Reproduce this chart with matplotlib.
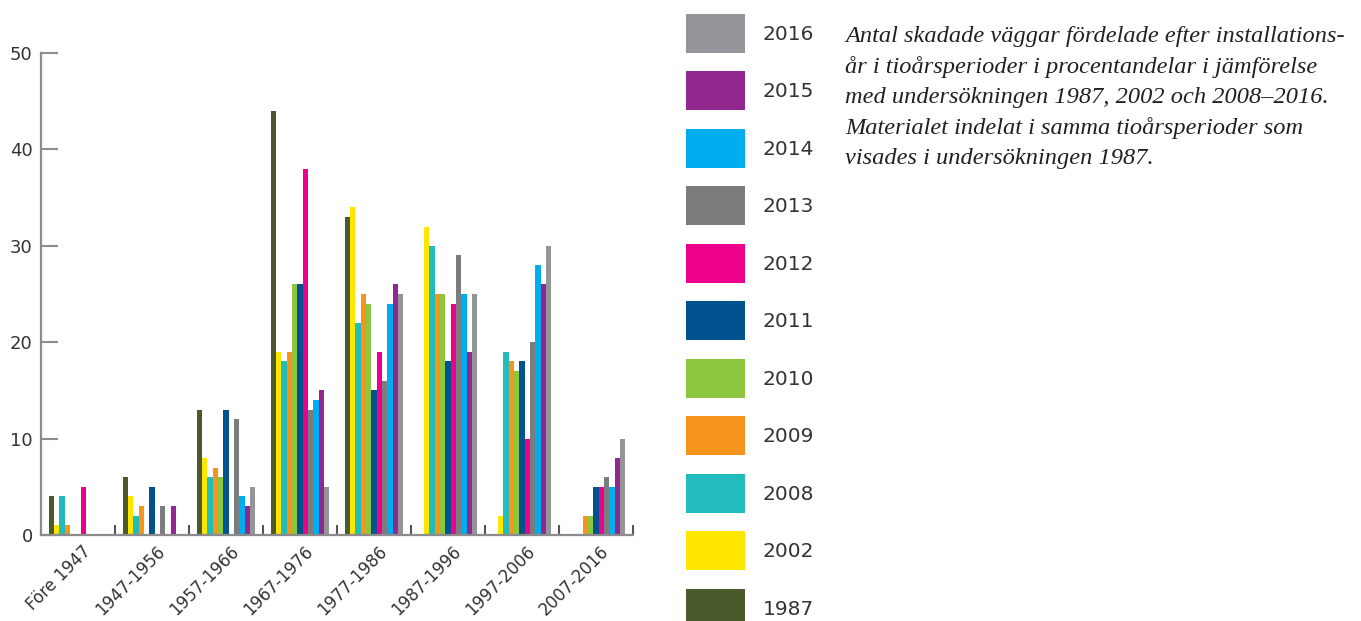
import numpy as np
import matplotlib
matplotlib.use("Agg")
import matplotlib.pyplot as plt
import matplotlib.transforms as mtransforms
from matplotlib.patches import Patch

# perioder (installationsår)
perioder = ['Före 1947', '1947-1956', '1957-1966', '1967-1976',
            '1977-1986', '1987-1996', '1997-2006', '2007-2016']

# år för undersökningen
ar = ['1987', '2002', '2008', '2009', '2010', '2011',
      '2012', '2013', '2014', '2015', '2016']

# andel skadade väggar i procent, en lista per undersökningsår
v1987 = [4, 6, 13, 44, 33, 0, 0, 0]
v2002 = [1, 4, 8, 19, 34, 32, 2, 0]
v2008 = [4, 2, 6, 18, 22, 30, 19, 0]
v2009 = [1, 3, 7, 19, 25, 25, 18, 2]
v2010 = [0, 0, 6, 26, 24, 25, 17, 2]
v2011 = [0, 5, 13, 26, 15, 18, 18, 5]
v2012 = [5, 0, 0, 38, 19, 24, 10, 5]
v2013 = [0, 3, 12, 13, 16, 29, 20, 6]
v2014 = [0, 0, 4, 14, 24, 25, 28, 5]
v2015 = [0, 3, 3, 15, 26, 19, 26, 8]
v2016 = [0, 0, 5, 5, 25, 25, 30, 10]

varden = [v1987, v2002, v2008, v2009, v2010, v2011,
          v2012, v2013, v2014, v2015, v2016]

farger = ['#4a5a2a', '#ffe600', '#22bcbd', '#f7941d', '#8dc63f', '#00538f',
          '#ec008c', '#7b7c7e', '#00aeef', '#92278f', '#939598']

fig = plt.figure(figsize=(13.61, 6.21), dpi=100)
ax = fig.add_axes([41 / 1361, 86 / 621, 592 / 1361, 482 / 621])

x = np.arange(len(perioder))
bredd = 0.072
for i, (serie, farg) in enumerate(zip(varden, farger)):
    forskjut = (i - (len(ar) - 1) / 2) * bredd
    ax.bar(x + forskjut, serie, bredd, color=farg, linewidth=0)

ax.set_xlim(-0.5, len(perioder) - 0.5)
ax.set_ylim(0, 50)

for sida in ['top', 'right']:
    ax.spines[sida].set_visible(False)
for sida in ['left', 'bottom']:
    ax.spines[sida].set_color('#8c8c8c')
    ax.spines[sida].set_linewidth(1.6)

ax.set_yticks([0, 10, 20, 30, 40, 50])
ax.tick_params(axis='y', direction='in', length=12, width=1.5,
               color='#8c8c8c', labelsize=13, labelcolor='#333333', pad=6)

ax.set_xticks(x)
ax.set_xticklabels(perioder, rotation=45, ha='right', va='top',
                   rotation_mode='anchor', fontsize=12, color='#333333')
ax.tick_params(axis='x', which='major', length=0, pad=5)
ax.set_xticks(x + 0.5, minor=True)
ax.tick_params(axis='x', which='minor', direction='in', length=7,
               width=1.5, color='#555555')
forflyttning = mtransforms.ScaledTranslation(4 / 100, 0, fig.dpi_scale_trans)
for etikett in ax.get_xticklabels():
    etikett.set_transform(etikett.get_transform() + forflyttning)

handtag = [Patch(facecolor=f, edgecolor='none', label=a)
           for a, f in zip(ar, farger)][::-1]
fig.legend(handles=handtag, loc='upper left',
           bbox_to_anchor=(686 / 1361, 1 - 14 / 621),
           frameon=False, fontsize=14.5, borderpad=0, borderaxespad=0,
           handlelength=2.95, handleheight=2.6, labelspacing=0.92,
           handletextpad=0.85, labelcolor='#333333')

fig.text(845 / 1361, 1 - 26 / 621,
         'Antal skadade väggar fördelade efter installations-\n'
         'år i tioårsperioder i procentandelar i jämförelse\n'
         'med undersökningen 1987, 2002 och 2008–2016.\n'
         'Materialet indelat i samma tioårsperioder som\n'
         'visades i undersökningen 1987.',
         family='Liberation Serif', style='italic', fontsize=17.6,
         color='#231f20', va='top', ha='left', linespacing=1.55)

fig.savefig('out.png', dpi=100)
